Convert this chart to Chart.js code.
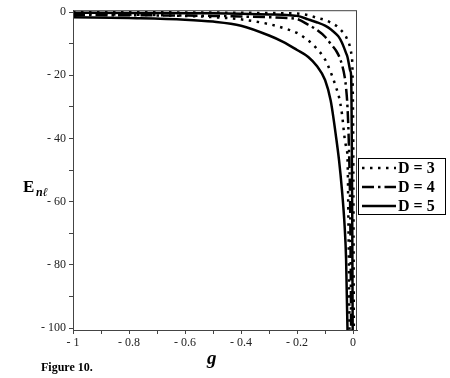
<!DOCTYPE html>
<html>
<head>
<meta charset="utf-8">
<script src="https://cdn.jsdelivr.net/npm/chart.js@4.4.1/dist/chart.umd.min.js"></script>
<style>
  html, body { margin: 0; padding: 0; background: #fff; }
  #wrap { width: 450px; height: 378px; }
</style>
</head>
<body>
<div id="wrap"><canvas id="energy"></canvas></div>
<script>
// g values shared by every curve
const gValues = [-1, -0.8, -0.6, -0.5, -0.4, -0.3, -0.25, -0.2, -0.16, -0.13, -0.1, -0.08, -0.06,
  -0.05, -0.04, -0.03, -0.025, -0.02, -0.015, -0.01, -0.007, -0.005, -0.003, -0.001, 0.001, 0.003];

// E_nl (null = beyond the bottom of the plot)
const d3Outer = [0, -0.05, -0.1, -0.15, -0.2, -0.3, -0.35, -0.45, -0.95, -1.8, -2.5, -3.3, -4.3,
  -5.1, -6.0, -7.0, -7.8, -8.9, -9.8, -11.4, -12.7, -13.9, -15.8, -25, -50, -110];
const d3Inner = [-0.6, -0.8, -1.2, -1.6, -2.3, -3.8, -5.0, -6.6, -9.0, -11.5, -15.0, -19.0, -24,
  -27, -32, -40, -42.5, -46, -80, -130, null, null, null, null, null, null];
const d4 = [-0.9, -1.0, -1.1, -1.2, -1.4, -1.6, -1.8, -2.2, -4.0, -5.6, -7.8, -10.0, -12.3,
  -14.0, -16.5, -20.5, -24, -30, -42, -65, -100, -130, null, null, null, null];
const d5Outer = [-0.2, -0.25, -0.35, -0.4, -0.55, -0.75, -0.85, -1.2, -2.3, -3.2, -4.3, -5.4, -7.0,
  -8.0, -9.6, -11.8, -13.0, -14.2, -16.4, -18.6, -20, -35, -65, -110, null, null];
const d5Inner = [-1.6, -1.9, -2.4, -3.0, -4.3, -7.4, -9.4, -12.0, -14.2, -17.0, -21.5, -28, -40,
  -47, -56, -68, -78, -100, -130, null, null, null, null, null, null, null];

const xTicks = [-1, -0.8, -0.6, -0.4, -0.2, 0];
const yTicks = [0, -20, -40, -60, -80, -100];
const legendLabels = ['D = 3', 'D = 4', 'D = 5'];

const dotted = [2.5, 5.5];
const dashDot = [12, 4, 2.5, 4];

function pts(arr) {
  return gValues.map((g, i) => ({ x: g, y: arr[i] })).filter(p => p.y !== null);
}

function curve(arr, dash) {
  return {
    data: pts(arr),
    borderColor: '#000',
    borderWidth: 2.5,
    borderDash: dash,
    pointRadius: 0,
    fill: false,
    cubicInterpolationMode: 'monotone'
  };
}

const serif = '"Liberation Serif", "DejaVu Serif", serif';

// frame, axis titles, caption and the boxed legend
const extras = {
  id: 'extras',
  afterDraw(chart) {
    const ctx = chart.ctx;
    const a = chart.chartArea;
    ctx.save();
    ctx.strokeStyle = '#444';
    ctx.lineWidth = 1;
    ctx.strokeRect(a.left + 0.5, a.top + 0.5, a.right - a.left - 1, a.bottom - a.top);

    ctx.fillStyle = '#000';
    ctx.textBaseline = 'alphabetic';
    ctx.font = 'bold 17px ' + serif;
    ctx.fillText('E', 23, 192);
    ctx.font = 'bold italic 12px ' + serif;
    ctx.fillText('nℓ', 36, 196);

    ctx.font = 'bold italic 19px ' + serif;
    ctx.fillText('g', 207, 364);

    ctx.font = 'bold 12px ' + serif;
    ctx.fillText('Figure 10.', 41, 371);

    // legend
    const lx = 358, ly = 158, lw = 87, lh = 56;
    ctx.strokeStyle = '#000';
    ctx.lineWidth = 1;
    ctx.strokeRect(lx + 0.5, ly + 0.5, lw, lh);
    const dashes = [dotted, dashDot, []];
    ctx.font = 'bold 16px ' + serif;
    ctx.textBaseline = 'middle';
    legendLabels.forEach((lab, i) => {
      const yy = ly + 10 + i * 19;
      ctx.beginPath();
      ctx.setLineDash(dashes[i]);
      ctx.lineWidth = 2.5;
      ctx.moveTo(lx + 4, yy);
      ctx.lineTo(lx + 38, yy);
      ctx.stroke();
      ctx.setLineDash([]);
      ctx.fillText(lab, lx + 40, yy + 1);
    });
    ctx.restore();
  }
};

new Chart(document.getElementById('energy').getContext('2d'), {
  type: 'line',
  data: {
    datasets: [
      curve(d3Outer, dotted),
      curve(d5Outer, []),
      curve(d4, dashDot),
      curve(d3Inner, dotted),
      curve(d5Inner, [])
    ]
  },
  options: {
    responsive: true,
    maintainAspectRatio: false,
    animation: false,
    layout: { padding: { top: 10, right: 93, left: 0, bottom: 0 } },
    plugins: { legend: { display: false }, tooltip: { enabled: false } },
    scales: {
      x: {
        type: 'linear',
        min: -1,
        max: 0.014,
        afterBuildTicks(scale) {
          const t = [];
          for (let v = -1; v <= 0.0001; v += 0.1) t.push({ value: Math.round(v * 10) / 10 });
          scale.ticks = t;
        },
        afterFit(scale) { scale.height = 48; },
        grid: { drawOnChartArea: false, drawTicks: true, tickLength: 4, color: '#444' },
        border: { display: true, color: '#444' },
        ticks: {
          color: '#222',
          font: { family: serif, size: 12 },
          padding: 2,
          maxRotation: 0,
          autoSkip: false,
          callback: v => {
            const r = Math.round(v * 10) / 10;
            if (!xTicks.includes(r)) return '';
            return r < 0 ? '- ' + Math.abs(r) : '0';
          }
        }
      },
      y: {
        type: 'linear',
        min: -100.6,
        max: 0.6,
        afterBuildTicks(scale) {
          const t = [];
          for (let v = 0; v >= -100; v -= 10) t.push({ value: v });
          scale.ticks = t;
        },
        afterFit(scale) { scale.width = 73; },
        grid: { drawOnChartArea: false, drawTicks: true, tickLength: 4, color: '#444' },
        border: { display: true, color: '#444' },
        ticks: {
          color: '#222',
          font: { family: serif, size: 12 },
          padding: 3,
          autoSkip: false,
          callback: v => {
            if (!yTicks.includes(v)) return '';
            return v < 0 ? '- ' + Math.abs(v) : '0';
          }
        }
      }
    }
  },
  plugins: [extras]
});
</script>
</body>
</html>
